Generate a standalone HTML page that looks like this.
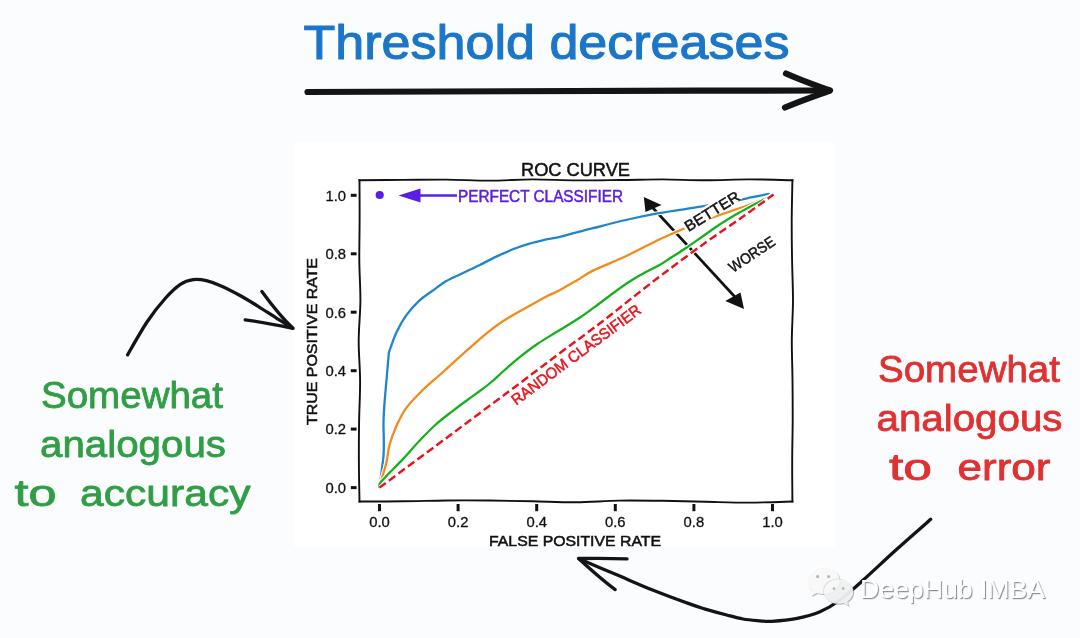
<!DOCTYPE html>
<html lang="en">
<head>
<meta charset="utf-8">
<title>ROC curve - threshold decreases</title>
<style>
html,body{margin:0;padding:0;background:#fbfcfe;}
body{width:1080px;height:638px;overflow:hidden;position:relative;font-family:"Liberation Sans",sans-serif;}
svg{position:absolute;left:0;top:0;display:block;}
text{font-family:"Liberation Sans",sans-serif;}
.hs text,text.hs{font-family:"Liberation Sans",sans-serif;stroke:currentColor;stroke-width:0.5px;}
.hs.tk text{stroke-width:0.3px;}
</style>
</head>
<body>
<svg width="1080" height="638" viewBox="0 0 1080 638">
<rect x="0" y="0" width="1080" height="638" fill="#fbfcfe"/>
<!-- big title -->
<text x="303.5" y="59" font-size="47.5" fill="#1c76c8" stroke="#1c76c8" stroke-width="1.1" stroke-linejoin="round" textLength="486" lengthAdjust="spacingAndGlyphs">Threshold decreases</text>
<!-- big arrow -->
<g fill="none" stroke="#141414" stroke-width="6.2" stroke-linecap="round" stroke-linejoin="round">
<path d="M307.5 92 C420 91 640 90.5 829 90.5"/>
<path d="M786 73.5 C800 80 815 85 830 90.5 C815 96 800 101 785 107.5"/>
</g>
<rect x="294" y="142.5" width="541" height="404.5" fill="#ffffff"/>
<path d="M653 208 L735 297" stroke="#111" stroke-width="2.7" fill="none"/>
<path d="M643.8 197 L661.5 205 L645.5 212 Z" fill="#111"/>
<path d="M744 309 L725.3 301 L740.5 292.5 Z" fill="#111"/>
<g fill="none" stroke-linecap="round" stroke-linejoin="round" stroke-width="2.3">
<path d="M379.5 487.0 C379.8 484.5 380.8 477.4 381.5 472.2 C382.2 467.0 383.1 461.2 383.5 455.8 C383.9 450.4 383.8 445.5 383.8 440.0 C383.8 434.5 383.4 429.0 383.5 422.9 C383.6 416.8 384.1 408.7 384.5 403.2 C384.9 397.7 385.1 395.4 385.6 390.0 C386.1 384.6 386.8 376.8 387.3 370.5 C387.9 364.2 388.6 355.4 388.9 352.4 L388.9 352.4 C390.1 349.1 393.4 338.9 396.3 332.7 C399.2 326.5 402.4 320.8 406.2 315.4 C410.0 310.0 414.9 304.7 419.3 300.6 C423.7 296.5 428.0 294.1 432.5 290.8 C437.0 287.5 441.3 284.0 446.4 281.0 C451.5 278.0 457.4 275.6 462.9 273.0 C468.4 270.4 473.8 267.9 479.3 265.2 C484.8 262.5 490.3 259.5 495.8 256.9 C501.3 254.3 506.7 251.7 512.2 249.5 C517.7 247.3 523.2 245.4 528.7 243.8 C534.2 242.2 539.9 240.9 545.1 239.7 C550.3 238.5 552.0 238.7 560.0 236.8 C568.0 234.9 581.9 231.0 592.9 228.2 C603.9 225.4 614.8 222.5 625.8 220.0 C636.8 217.5 648.6 215.1 658.7 213.2 C668.8 211.3 678.6 210.0 686.4 208.8 C694.2 207.6 699.5 206.8 705.4 205.8 C711.3 204.8 716.4 204.0 722.0 203.0 C727.6 202.0 734.1 201.0 739.1 200.0 C744.1 199.0 747.3 198.2 752.2 197.2 C757.1 196.2 766.0 194.4 768.7 193.9" stroke="#ffffff" stroke-width="4.4"/>
<path d="M379.5 487.0 C379.8 484.5 380.8 477.4 381.5 472.2 C382.2 467.0 383.1 461.2 383.5 455.8 C383.9 450.4 383.8 445.5 383.8 440.0 C383.8 434.5 383.4 429.0 383.5 422.9 C383.6 416.8 384.1 408.7 384.5 403.2 C384.9 397.7 385.1 395.4 385.6 390.0 C386.1 384.6 386.8 376.8 387.3 370.5 C387.9 364.2 388.6 355.4 388.9 352.4 L388.9 352.4 C390.1 349.1 393.4 338.9 396.3 332.7 C399.2 326.5 402.4 320.8 406.2 315.4 C410.0 310.0 414.9 304.7 419.3 300.6 C423.7 296.5 428.0 294.1 432.5 290.8 C437.0 287.5 441.3 284.0 446.4 281.0 C451.5 278.0 457.4 275.6 462.9 273.0 C468.4 270.4 473.8 267.9 479.3 265.2 C484.8 262.5 490.3 259.5 495.8 256.9 C501.3 254.3 506.7 251.7 512.2 249.5 C517.7 247.3 523.2 245.4 528.7 243.8 C534.2 242.2 539.9 240.9 545.1 239.7 C550.3 238.5 552.0 238.7 560.0 236.8 C568.0 234.9 581.9 231.0 592.9 228.2 C603.9 225.4 614.8 222.5 625.8 220.0 C636.8 217.5 648.6 215.1 658.7 213.2 C668.8 211.3 678.6 210.0 686.4 208.8 C694.2 207.6 699.5 206.8 705.4 205.8 C711.3 204.8 716.4 204.0 722.0 203.0 C727.6 202.0 734.1 201.0 739.1 200.0 C744.1 199.0 747.3 198.2 752.2 197.2 C757.1 196.2 766.0 194.4 768.7 193.9" stroke="#1f86c9"/>
<path d="M379.5 487.0 C379.8 485.8 380.4 483.7 381.5 479.6 C382.6 475.5 385.0 468.3 386.4 462.4 C387.8 456.5 388.0 450.3 389.7 444.3 C391.4 438.3 393.6 432.2 396.3 426.2 C399.1 420.2 401.8 414.1 406.2 408.1 C410.6 402.1 417.3 395.4 422.8 390.0 C428.3 384.6 433.7 380.4 439.1 375.5 C444.6 370.6 450.0 365.6 455.5 360.7 C461.0 355.8 466.5 350.7 472.0 345.9 C477.5 341.1 482.9 336.2 488.4 331.9 C493.9 327.6 498.1 324.3 504.8 320.0 C511.5 315.7 522.0 310.1 528.7 306.3 C535.4 302.5 539.9 299.9 545.1 297.2 C550.3 294.5 554.6 292.9 560.0 290.0 C565.4 287.1 572.0 283.2 577.5 280.0 C583.0 276.8 584.9 274.6 592.9 270.6 C600.9 266.7 614.8 261.5 625.8 256.3 C636.8 251.2 649.0 244.3 658.7 239.7 C668.4 235.1 677.1 231.5 684.0 228.5 C690.9 225.5 695.0 223.4 700.0 221.5 C705.0 219.6 708.9 218.7 714.3 216.9 C719.7 215.1 726.3 212.7 732.3 210.6 C738.2 208.5 744.2 206.8 750.0 204.6 C755.8 202.4 763.2 199.1 767.0 197.5 C770.8 195.9 771.6 195.7 772.5 195.3" stroke="#ffffff" stroke-width="4.4"/>
<path d="M379.5 487.0 C379.8 485.8 380.4 483.7 381.5 479.6 C382.6 475.5 385.0 468.3 386.4 462.4 C387.8 456.5 388.0 450.3 389.7 444.3 C391.4 438.3 393.6 432.2 396.3 426.2 C399.1 420.2 401.8 414.1 406.2 408.1 C410.6 402.1 417.3 395.4 422.8 390.0 C428.3 384.6 433.7 380.4 439.1 375.5 C444.6 370.6 450.0 365.6 455.5 360.7 C461.0 355.8 466.5 350.7 472.0 345.9 C477.5 341.1 482.9 336.2 488.4 331.9 C493.9 327.6 498.1 324.3 504.8 320.0 C511.5 315.7 522.0 310.1 528.7 306.3 C535.4 302.5 539.9 299.9 545.1 297.2 C550.3 294.5 554.6 292.9 560.0 290.0 C565.4 287.1 572.0 283.2 577.5 280.0 C583.0 276.8 584.9 274.6 592.9 270.6 C600.9 266.7 614.8 261.5 625.8 256.3 C636.8 251.2 649.0 244.3 658.7 239.7 C668.4 235.1 677.1 231.5 684.0 228.5 C690.9 225.5 695.0 223.4 700.0 221.5 C705.0 219.6 708.9 218.7 714.3 216.9 C719.7 215.1 726.3 212.7 732.3 210.6 C738.2 208.5 744.2 206.8 750.0 204.6 C755.8 202.4 763.2 199.1 767.0 197.5 C770.8 195.9 771.6 195.7 772.5 195.3" stroke="#f18b1b"/>
<path d="M379.5 487.0 C379.8 486.1 377.6 485.9 381.5 481.3 C385.4 476.7 396.6 465.8 402.9 459.1 C409.2 452.4 413.8 446.8 419.3 441.0 C424.8 435.2 430.3 429.4 435.8 424.5 C441.3 419.6 446.7 415.6 452.2 411.4 C457.7 407.1 463.9 402.5 468.7 399.0 C473.5 395.5 477.1 393.1 481.0 390.2 C484.9 387.3 488.1 384.9 492.0 381.5 C495.9 378.1 500.2 373.9 504.7 370.0 C509.2 366.1 513.3 362.3 518.8 357.9 C524.3 353.5 531.3 348.1 537.6 343.8 C543.9 339.5 549.3 336.5 556.4 332.1 C563.5 327.7 573.1 322.1 580.0 317.5 C586.9 312.9 592.7 308.4 598.0 304.5 C603.3 300.6 606.7 297.9 612.0 294.0 C617.3 290.1 624.5 284.9 630.0 281.3 C635.5 277.7 640.0 275.2 645.0 272.5 C650.0 269.8 655.5 267.4 660.0 264.8 C664.5 262.2 667.6 259.8 672.0 257.0 C676.4 254.2 681.2 251.3 686.4 247.8 C691.5 244.3 697.3 240.1 702.9 236.2 C708.5 232.3 714.5 227.9 720.0 224.3 C725.5 220.7 730.8 217.3 735.8 214.4 C740.8 211.5 744.5 209.6 750.0 206.7 C755.5 203.8 765.0 199.1 768.7 197.2 C772.5 195.3 771.9 195.6 772.5 195.3" stroke="#ffffff" stroke-width="4.4"/>
<path d="M379.5 487.0 C379.8 486.1 377.6 485.9 381.5 481.3 C385.4 476.7 396.6 465.8 402.9 459.1 C409.2 452.4 413.8 446.8 419.3 441.0 C424.8 435.2 430.3 429.4 435.8 424.5 C441.3 419.6 446.7 415.6 452.2 411.4 C457.7 407.1 463.9 402.5 468.7 399.0 C473.5 395.5 477.1 393.1 481.0 390.2 C484.9 387.3 488.1 384.9 492.0 381.5 C495.9 378.1 500.2 373.9 504.7 370.0 C509.2 366.1 513.3 362.3 518.8 357.9 C524.3 353.5 531.3 348.1 537.6 343.8 C543.9 339.5 549.3 336.5 556.4 332.1 C563.5 327.7 573.1 322.1 580.0 317.5 C586.9 312.9 592.7 308.4 598.0 304.5 C603.3 300.6 606.7 297.9 612.0 294.0 C617.3 290.1 624.5 284.9 630.0 281.3 C635.5 277.7 640.0 275.2 645.0 272.5 C650.0 269.8 655.5 267.4 660.0 264.8 C664.5 262.2 667.6 259.8 672.0 257.0 C676.4 254.2 681.2 251.3 686.4 247.8 C691.5 244.3 697.3 240.1 702.9 236.2 C708.5 232.3 714.5 227.9 720.0 224.3 C725.5 220.7 730.8 217.3 735.8 214.4 C740.8 211.5 744.5 209.6 750.0 206.7 C755.5 203.8 765.0 199.1 768.7 197.2 C772.5 195.3 771.9 195.6 772.5 195.3" stroke="#16b01e"/>
<path d="M379.5 487.6 C390.4 479.5 423.2 455.2 445.0 439.0 C466.8 422.8 490.8 404.9 510.0 390.6 C529.2 376.3 545.0 364.2 560.0 353.0 C575.0 341.8 588.3 332.2 600.0 323.3 C611.7 314.4 619.2 308.1 630.0 299.6 C640.8 291.1 652.5 281.9 665.0 272.5 C677.5 263.1 692.2 252.2 705.0 243.0 C717.8 233.8 730.6 225.4 742.0 217.3 C753.4 209.2 768.2 198.4 773.5 194.6" stroke="#ffffff" stroke-width="4.2" stroke-linecap="butt"/>
<path d="M379.5 487.6 C390.4 479.5 423.2 455.2 445.0 439.0 C466.8 422.8 490.8 404.9 510.0 390.6 C529.2 376.3 545.0 364.2 560.0 353.0 C575.0 341.8 588.3 332.2 600.0 323.3 C611.7 314.4 619.2 308.1 630.0 299.6 C640.8 291.1 652.5 281.9 665.0 272.5 C677.5 263.1 692.2 252.2 705.0 243.0 C717.8 233.8 730.6 225.4 742.0 217.3 C753.4 209.2 768.2 198.4 773.5 194.6" stroke="#e8141c" stroke-width="2.45" stroke-dasharray="8 3.8" stroke-linecap="butt"/>
</g>
<g fill="none" stroke="#111" stroke-width="1.9" stroke-linecap="square">
<path d="M359.5 180.3 C366.7 180.2 388.4 180.1 402.8 179.9 C417.2 179.8 431.6 179.5 446.1 179.6 C460.5 179.7 474.9 180.6 489.4 180.6 C503.8 180.6 518.2 179.5 532.7 179.4 C547.1 179.4 561.5 180.3 576.0 180.4 C590.4 180.5 604.8 180.2 619.2 180.0 C633.7 179.9 648.1 179.4 662.5 179.4 C677.0 179.5 691.4 180.3 705.8 180.3 C720.2 180.3 734.7 179.4 749.1 179.4 C763.5 179.4 785.2 180.1 792.4 180.3"/>
<path d="M359.5 501.5 C366.7 501.5 388.4 501.5 402.8 501.3 C417.2 501.2 431.6 500.6 446.1 500.5 C460.5 500.3 474.9 500.4 489.4 500.5 C503.8 500.7 518.2 501.0 532.7 501.3 C547.1 501.6 561.5 502.4 576.0 502.3 C590.4 502.2 604.8 500.8 619.2 500.6 C633.7 500.4 648.1 500.6 662.5 500.8 C677.0 501.0 691.4 501.5 705.8 501.8 C720.2 502.1 734.7 502.6 749.1 502.6 C763.5 502.5 785.2 501.7 792.4 501.5"/>
<path d="M359.5 180.3 C359.5 187.0 359.7 207.1 359.6 220.5 C359.6 233.8 359.2 247.2 359.3 260.6 C359.4 274.0 360.5 287.4 360.4 300.8 C360.3 314.1 358.7 327.5 358.7 340.9 C358.6 354.3 360.1 367.7 360.1 381.1 C360.2 394.4 359.3 407.8 359.1 421.2 C358.9 434.6 358.8 448.0 358.9 461.4 C358.9 474.7 359.4 494.8 359.5 501.5"/>
<path d="M792.4 180.3 C792.3 187.0 791.8 207.1 791.7 220.5 C791.7 233.8 791.8 247.2 792.1 260.6 C792.3 274.0 793.0 287.4 793.0 300.8 C792.9 314.1 791.9 327.5 791.8 340.9 C791.8 354.3 792.4 367.7 792.5 381.1 C792.7 394.4 792.7 407.8 792.7 421.2 C792.6 434.6 792.2 448.0 792.2 461.4 C792.1 474.7 792.4 494.8 792.4 501.5"/>
</g>
<g stroke="#111" stroke-width="3">
<line x1="379.5" y1="504" x2="379.5" y2="511.2"/>
<line x1="350.8" y1="487.6" x2="356.6" y2="487.6"/>
<line x1="458.1" y1="504" x2="458.1" y2="511.2"/>
<line x1="350.8" y1="429.1" x2="356.6" y2="429.1"/>
<line x1="536.7" y1="504" x2="536.7" y2="511.2"/>
<line x1="350.8" y1="370.7" x2="356.6" y2="370.7"/>
<line x1="615.3" y1="504" x2="615.3" y2="511.2"/>
<line x1="350.8" y1="312.2" x2="356.6" y2="312.2"/>
<line x1="693.9" y1="504" x2="693.9" y2="511.2"/>
<line x1="350.8" y1="253.8" x2="356.6" y2="253.8"/>
<line x1="772.5" y1="504" x2="772.5" y2="511.2"/>
<line x1="350.8" y1="195.3" x2="356.6" y2="195.3"/>
</g>
<g class="hs tk" font-size="14.8" fill="#111" color="#111">
<text x="379.5" y="527.3" text-anchor="middle">0.0</text>
<text x="346" y="492.9" text-anchor="end">0.0</text>
<text x="458.1" y="527.3" text-anchor="middle">0.2</text>
<text x="346" y="434.4" text-anchor="end">0.2</text>
<text x="536.7" y="527.3" text-anchor="middle">0.4</text>
<text x="346" y="376.0" text-anchor="end">0.4</text>
<text x="615.3" y="527.3" text-anchor="middle">0.6</text>
<text x="346" y="317.5" text-anchor="end">0.6</text>
<text x="693.9" y="527.3" text-anchor="middle">0.8</text>
<text x="346" y="259.1" text-anchor="end">0.8</text>
<text x="772.5" y="527.3" text-anchor="middle">1.0</text>
<text x="346" y="200.6" text-anchor="end">1.0</text>
</g>
<!-- chart texts -->
<g class="hs" fill="#111" color="#111">
<text x="575.5" y="176" font-size="19" text-anchor="middle" textLength="109" lengthAdjust="spacingAndGlyphs">ROC CURVE</text>
<text x="575" y="545.5" font-size="14" text-anchor="middle" textLength="172" lengthAdjust="spacingAndGlyphs">FALSE POSITIVE RATE</text>
<text transform="translate(317 341.5) rotate(-90)" font-size="14" text-anchor="middle" textLength="167" lengthAdjust="spacingAndGlyphs">TRUE POSITIVE RATE</text>
</g>
<!-- perfect classifier -->
<circle cx="379.7" cy="195" r="4.1" fill="#5a1ee6"/>
<path d="M420 195.5 L457 195.5" stroke="#5a1ee6" stroke-width="2.5" fill="none"/>
<path d="M398.5 195.5 L420.5 188.5 L420.5 202.5 Z" fill="#5a1ee6"/>
<text class="hs" x="458" y="202" font-size="16.3" fill="#5a1ee6" color="#5a1ee6" textLength="165" lengthAdjust="spacingAndGlyphs">PERFECT CLASSIFIER</text>
<!-- random classifier -->
<text class="hs" transform="translate(516.2 405.8) rotate(-36.6)" font-size="15.5" fill="#e8141c" color="#e8141c" textLength="157" lengthAdjust="spacingAndGlyphs">RANDOM CLASSIFIER</text>
<!-- better / worse arrow -->
<g transform="translate(712 211) rotate(-32)" color="#111">
<rect x="-32.5" y="-7.6" width="65" height="13.2" fill="#ffffff"/>
<text class="hs" x="0" y="5.4" font-size="15" fill="#111" text-anchor="middle" textLength="62" lengthAdjust="spacingAndGlyphs">BETTER</text>
</g>
<g transform="translate(751.7 254) rotate(-33.7)" color="#111">
<text class="hs" x="0" y="5.4" font-size="15" fill="#111" text-anchor="middle" textLength="52" lengthAdjust="spacingAndGlyphs">WORSE</text>
</g>
<!-- left annotation -->
<g fill="#2f9e44" stroke="#2f9e44" stroke-width="0.8" stroke-linejoin="round" font-size="37">
<text x="41" y="408" textLength="182" lengthAdjust="spacingAndGlyphs">Somewhat</text>
<text x="40" y="457.3" textLength="186" lengthAdjust="spacingAndGlyphs">analogous</text>
<text y="506.3"><tspan x="14.5" textLength="42" lengthAdjust="spacingAndGlyphs">to</tspan> <tspan x="80" textLength="170.5" lengthAdjust="spacingAndGlyphs">accuracy</tspan></text>
</g>
<g fill="none" stroke="#141414" stroke-width="3.3" stroke-linecap="round" stroke-linejoin="round">
<path d="M127.6 354.8 C130.8 349.3 140.7 331.5 147.0 322.0 C153.3 312.5 160.0 304.3 165.6 298.0 C171.2 291.7 175.8 287.4 180.4 284.3 C185.0 281.2 189.0 280.2 193.3 279.6 C197.6 279.0 201.7 279.6 206.3 280.7 C210.9 281.8 215.6 283.5 221.1 285.9 C226.6 288.3 233.4 291.8 239.6 295.2 C245.8 298.6 251.9 302.4 258.1 306.3 C264.3 310.2 271.0 314.7 276.7 318.3 C282.4 321.9 289.8 326.5 292.4 328.1"/>
<path d="M261.9 291.5 C271 304 281 317 293 328.3 C277 325 261 322 245.2 319.8"/>
</g>
<!-- right annotation -->
<g fill="#e03131" stroke="#e03131" stroke-width="0.8" stroke-linejoin="round" font-size="37">
<text x="878" y="381.8" textLength="182" lengthAdjust="spacingAndGlyphs">Somewhat</text>
<text x="876.5" y="430.5" textLength="186" lengthAdjust="spacingAndGlyphs">analogous</text>
<text y="480.3"><tspan x="889" textLength="43" lengthAdjust="spacingAndGlyphs">to</tspan> <tspan x="957.5" textLength="93" lengthAdjust="spacingAndGlyphs">error</tspan></text>
</g>
<g fill="none" stroke="#141414" stroke-width="3.3" stroke-linecap="round" stroke-linejoin="round">
<path d="M930.7 519.3 C925.1 524.2 908.2 538.9 897.0 549.0 C885.8 559.1 872.9 571.4 863.3 580.0 C853.7 588.6 846.5 595.2 839.3 600.5 C832.1 605.8 827.2 608.7 820.0 611.7 C812.8 614.7 803.9 617.0 795.9 618.6 C787.9 620.2 777.8 620.9 771.8 621.3 C765.8 621.7 764.8 621.2 760.0 620.8 C755.2 620.4 748.5 620.0 743.0 619.0 C737.5 618.0 733.1 616.7 726.7 615.0 C720.3 613.3 710.6 610.6 704.4 608.8 C698.2 606.9 698.2 607.0 689.6 603.9 C681.0 600.8 664.9 594.9 652.6 590.0 C640.3 585.1 627.9 579.5 615.6 574.3 C603.3 569.1 585.1 561.4 579.0 558.8"/>
<path d="M627 558.9 C610 558.2 595 558.2 578.5 558.5 C590 569 602 580 615.2 589.6"/>
</g>
<!-- watermark -->
<g id="wm">
<g fill="#8e9196" fill-opacity="0.65" transform="translate(1 1.1)"><path d="M823 566.6 C813.5 566.6 806.3 572.8 806.3 580.4 C806.3 584.8 808.7 588.5 812.5 590.9 L811 596 L816.9 592.9 C818.9 593.5 820.9 593.9 823 593.9 C832.6 593.9 839.7 588 839.7 580.4 C839.7 572.8 832.6 566.6 823 566.6 Z"/><path d="M838.5 579.3 C830.4 579.3 823.8 584.7 823.8 591.5 C823.8 598.3 830.4 603.7 838.5 603.7 C840.3 603.7 842 603.4 843.6 603 L848.6 605.8 L847.3 601.4 C850.9 599.1 853.2 595.6 853.2 591.5 C853.2 584.7 846.6 579.3 838.5 579.3 Z"/></g>
<path d="M823 566.6 C813.5 566.6 806.3 572.8 806.3 580.4 C806.3 584.8 808.7 588.5 812.5 590.9 L811 596 L816.9 592.9 C818.9 593.5 820.9 593.9 823 593.9 C832.6 593.9 839.7 588 839.7 580.4 C839.7 572.8 832.6 566.6 823 566.6 Z" fill="#ffffff" fill-opacity="0.9"/>
<path d="M838.5 579.3 C830.4 579.3 823.8 584.7 823.8 591.5 C823.8 598.3 830.4 603.7 838.5 603.7 C840.3 603.7 842 603.4 843.6 603 L848.6 605.8 L847.3 601.4 C850.9 599.1 853.2 595.6 853.2 591.5 C853.2 584.7 846.6 579.3 838.5 579.3 Z" fill="#8e9196" fill-opacity="0.35" transform="translate(-0.6 -0.6)"/>
<path d="M838.5 579.3 C830.4 579.3 823.8 584.7 823.8 591.5 C823.8 598.3 830.4 603.7 838.5 603.7 C840.3 603.7 842 603.4 843.6 603 L848.6 605.8 L847.3 601.4 C850.9 599.1 853.2 595.6 853.2 591.5 C853.2 584.7 846.6 579.3 838.5 579.3 Z" fill="#ffffff" fill-opacity="0.82"/>
<g fill="#b4b7bc">
<circle cx="817.6" cy="576.6" r="1.6"/><circle cx="828.6" cy="576.6" r="1.6"/>
<circle cx="834" cy="588.6" r="1.4"/><circle cx="843.2" cy="588.6" r="1.4"/>
</g>
<filter id="wmsh" x="-5%" y="-20%" width="110%" height="140%"><feDropShadow dx="1.1" dy="1.2" stdDeviation="0.15" flood-color="#8f9196" flood-opacity="1"/></filter>
<text x="860" y="598" font-size="26.5" fill="#ffffff" filter="url(#wmsh)" textLength="185" lengthAdjust="spacingAndGlyphs">DeepHub IMBA</text>
</g>
</svg>
</body>
</html>
